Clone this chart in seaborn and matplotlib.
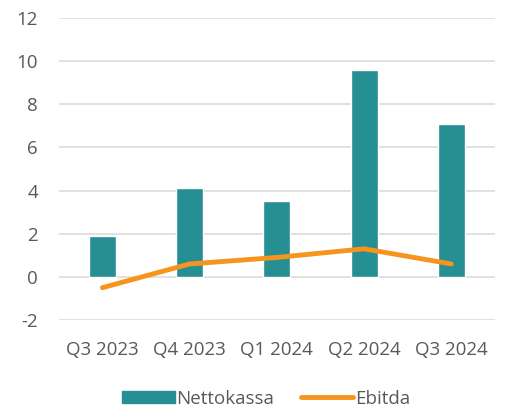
import matplotlib
matplotlib.use("Agg")
import matplotlib.pyplot as plt
import seaborn as sns
import pandas as pd
from matplotlib.patches import Patch
from matplotlib.lines import Line2D

categories = ["Q3 2023", "Q4 2023", "Q1 2024", "Q2 2024", "Q3 2024"]
nettokassa = [1.9, 4.1, 3.5, 9.6, 7.1]
ebitda = [-0.5, 0.6, 0.9, 1.3, 0.6]
yticks = [-2, 0, 2, 4, 6, 8, 10, 12]

sns.set_theme(style="white")
plt.rcParams['font.family'] = ['Open Sans', 'DejaVu Sans']

teal = "#268F93"
orange = "#F7941D"
grey = "#595959"
fs = 13.5

df = pd.DataFrame({"Kvartal": categories, "Nettokassa": nettokassa, "Ebitda": ebitda})

fig = plt.figure(figsize=(5.07, 4.13), dpi=100)
ax = fig.add_axes([0.116, 0.225, 0.86, 0.732])

sns.barplot(data=df, x="Kvartal", y="Nettokassa", color=teal, width=0.31,
            saturation=1, ax=ax, zorder=2)
sns.lineplot(x=list(range(len(categories))), y=ebitda, color=orange, linewidth=3.5,
             ax=ax, zorder=3, solid_capstyle="round")

ax.set_xlim(-0.5, len(categories) - 0.5)
ax.set_ylim(-2, 12)
ax.set_yticks(yticks)
ax.set_yticklabels([str(t) for t in yticks])
ax.yaxis.grid(True, color="#D9D9D9", linewidth=1.1, zorder=0)
ax.set_axisbelow(True)
for s in ax.spines.values():
    s.set_visible(False)
ax.set_xlabel("")
ax.set_ylabel("")
ax.tick_params(axis="both", length=0, labelsize=fs, colors=grey)
ax.tick_params(axis="y", pad=15)
ax.tick_params(axis="x", pad=15)

handles = [Patch(facecolor=teal, edgecolor=teal),
           Line2D([0], [0], color=orange, linewidth=3.5, solid_capstyle="round")]
leg = fig.legend(handles, ["Nettokassa", "Ebitda"], loc="center", bbox_to_anchor=(0.525, 0.035),
                 ncol=2, frameon=False, fontsize=fs, handlelength=2.8, handleheight=0.6,
                 handletextpad=0.1, columnspacing=1.4)
for t in leg.get_texts():
    t.set_color(grey)

fig.savefig("out.png", dpi=100)
